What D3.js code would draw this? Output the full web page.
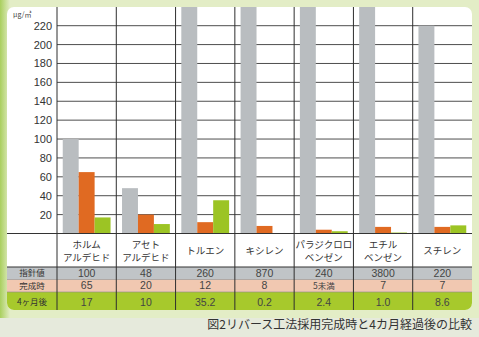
<!DOCTYPE html>
<html><head><meta charset="utf-8">
<script src="https://cdn.jsdelivr.net/npm/d3@7"></script>
<style>body{margin:0;background:#e3edc6;}svg{display:block}</style>
</head><body>
<script>
const categories = [["ホルム","アルデヒド"],["アセト","アルデヒド"],["トルエン"],["キシレン"],["パラジクロロ","ベンゼン"],["エチル","ベンゼン"],["スチレン"]];
const guideline = [100, 48, 260, 870, 240, 3800, 220];
const completion = [65, 20, 12, 8, 4, 7, 7];
const after4 = [17, 10, 35.2, 0.2, 2.4, 1.0, 8.6];
const guidelineLabels = ["100","48","260","870","240","3800","220"];
const completionLabels = ["65","20","12","8","5未満","7","7"];
const after4Labels = ["17","10","35.2","0.2","2.4","1.0","8.6"];
const rowNames = ["指針値","完成時","4ヶ月後"];
const yTicks = [20,40,60,80,100,120,140,160,180,200,220];
const unitLabel = "μg/㎥";
const caption = "図2リバース工法採用完成時と4カ月経過後の比較";

const W = 479, H = 337;
const svg = d3.select("body").append("svg").attr("width", W).attr("height", H);
const defs = svg.append("defs");
const lg = defs.append("linearGradient").attr("id","bgL").attr("x1",0).attr("x2",1);
lg.append("stop").attr("offset",0).attr("stop-color","#a9cf5e");
lg.append("stop").attr("offset",1).attr("stop-color","#e3edc6");
svg.append("rect").attr("width",W).attr("height",H).attr("fill","#e3edc6");
svg.append("rect").attr("x",0).attr("y",0).attr("width",10).attr("height",H).attr("fill","url(#bgL)");
svg.append("rect").attr("x",0).attr("y",318).attr("width",W).attr("height",19).attr("fill","#e6eadc");

const pL = 7, pR = 472, pT = 7, pB = 310;
defs.append("clipPath").attr("id","panel").append("rect")
  .attr("x",pL).attr("y",pT).attr("width",pR-pL).attr("height",pB-pT).attr("rx",7);
const g = svg.append("g").attr("clip-path","url(#panel)");
g.append("rect").attr("x",pL).attr("y",pT).attr("width",pR-pL).attr("height",pB-pT).attr("fill","#fff");

const axisX = 57, base = 233.5;
const x = d3.scaleBand().domain(d3.range(categories.length)).range([axisX, pR]);
const y = d3.scaleLinear().domain([0, 220]).range([base, 25.7]);
const seriesNames = ["guideline","completion","after4"];
const series = [guideline, completion, after4];
const colors = ["#b9bdc0","#e06a22","#9cc424"];
const x1 = d3.scaleBand().domain(seriesNames).range([0, x.bandwidth()]).paddingOuter(0.36);

// table rows
const rows = [
  {y0:267, y1:279.5, fill:"#c0c4c7", labels:guidelineLabels},
  {y0:279.5, y1:292, fill:"#f1c8b1", labels:completionLabels},
  {y0:292, y1:pB, fill:"#a7c92c", labels:after4Labels}
];
rows.forEach((r,i)=>{
  g.append("rect").attr("x",pL).attr("y",r.y0).attr("width",pR-pL).attr("height",r.y1-r.y0).attr("fill",r.fill);
  const ty = i===2 ? r.y0+10.5 : (r.y0+r.y1)/2;
  g.append("text").attr("x",32).attr("y",ty).attr("dy","0.35em").attr("text-anchor","middle")
    .attr("font-family","Noto Sans CJK JP").attr("font-size",8.5).attr("fill","#333").text(rowNames[i]);
  r.labels.forEach((t,j)=>{
    const cjk = /[^\x00-\x7f]/.test(t);
    g.append("text").attr("x",x(j)+x.bandwidth()/2).attr("y",ty).attr("dy","0.35em").attr("text-anchor","middle")
      .attr("font-family", cjk ? "Noto Sans CJK JP" : "Liberation Sans")
      .attr("font-size", cjk ? 8.5 : 10.5).attr("fill","#444").text(t);
  });
});

// grid lines
g.selectAll("line.grid").data(yTicks).join("line").attr("class","grid")
  .attr("x1",axisX).attr("x2",pR).attr("y1",d=>y(d)).attr("y2",d=>y(d))
  .attr("stroke","#3a3a3a").attr("stroke-width",0.9);

// bars
const bg = g.append("g");
series.forEach((vals,si)=>{
  bg.selectAll(null).data(vals).join("rect")
    .attr("x",(d,i)=>x(i)+x1(seriesNames[si]))
    .attr("width",x1.bandwidth())
    .attr("y",d=>Math.max(y(d),pT-5))
    .attr("height",d=>base-Math.max(y(d),pT-5))
    .attr("fill",colors[si]);
});

// y tick labels
svg.selectAll("text.yt").data(yTicks).join("text").attr("class","yt")
  .attr("x",52).attr("y",d=>y(d)).attr("dy","0.36em").attr("text-anchor","end")
  .attr("font-family","Liberation Sans").attr("font-size",11).attr("fill","#333").text(d=>d);
svg.append("text").attr("x",13).attr("y",17).attr("font-family","Noto Sans CJK JP")
  .attr("font-size",7).attr("fill","#444").text(unitLabel);

// horizontal table lines
[base, 267, 279.5, 292].forEach((yy,i)=>{
  g.append("line").attr("x1",pL).attr("x2",pR).attr("y1",yy).attr("y2",yy)
    .attr("stroke", i<2 ? "#333" : "#8a8a8a").attr("stroke-width", i<2 ? 1 : 0.6);
});
// vertical lines
const vx = [axisX].concat(d3.range(1,categories.length).map(i=>x(i)));
g.selectAll("line.v").data(vx).join("line").attr("class","v")
  .attr("x1",d=>d).attr("x2",d=>d).attr("y1",pT).attr("y2",pB)
  .attr("stroke","#2e2e2e").attr("stroke-width",1);

// category names
categories.forEach((c,i)=>{
  const cx = x(i)+x.bandwidth()/2;
  const ys = c.length===2 ? [245,258] : [251];
  c.forEach((t,k)=>{
    g.append("text").attr("x",cx).attr("y",ys[k]).attr("dy","0.35em").attr("text-anchor","middle")
      .attr("font-family","Noto Sans CJK JP").attr("font-size",9.5).attr("fill","#333").text(t);
  });
});

svg.append("text").attr("x",472).attr("y",325).attr("dy","0.35em").attr("text-anchor","end")
  .attr("font-family","Noto Sans CJK JP").attr("font-size",12).attr("fill","#333").text(caption);
</script>
</body></html>
